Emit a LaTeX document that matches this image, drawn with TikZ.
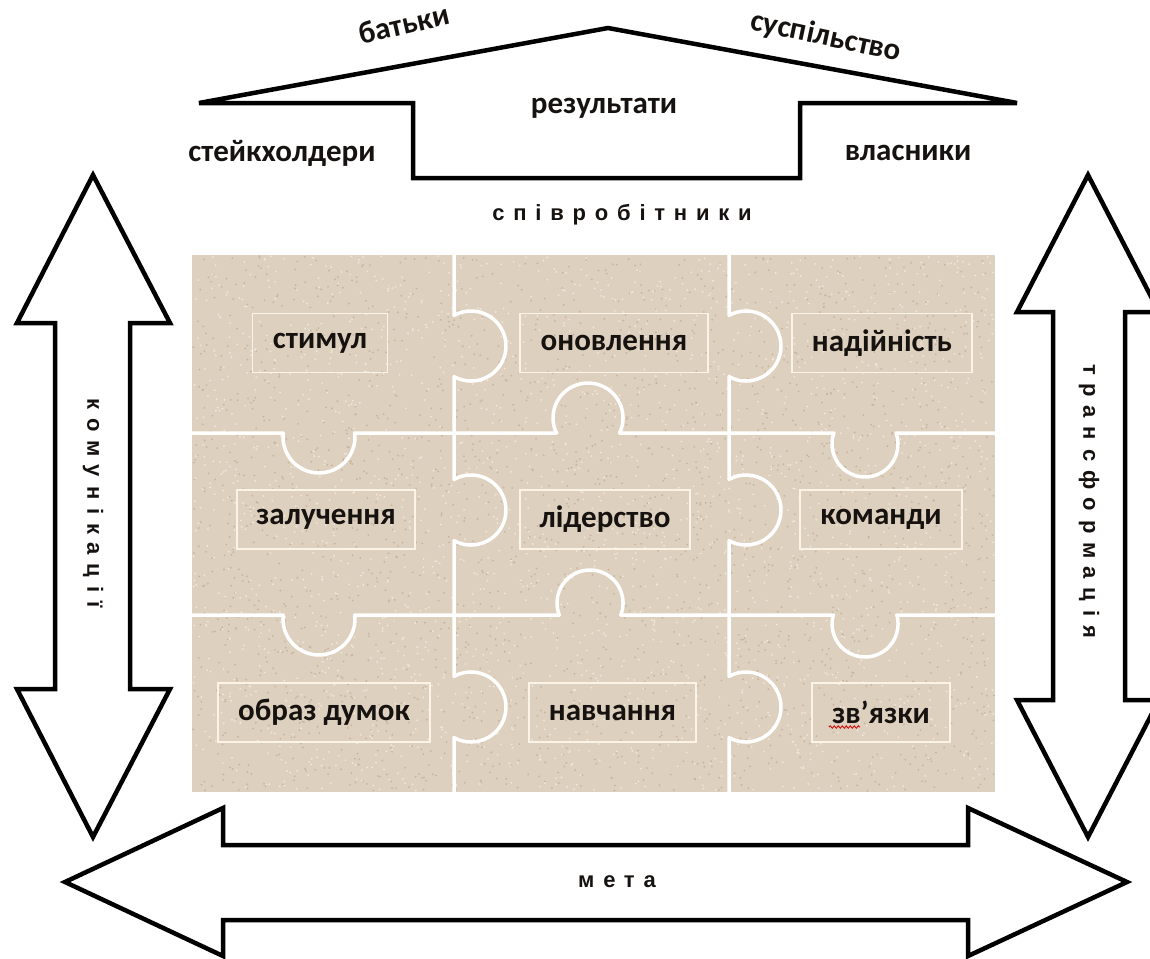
\documentclass[tikz,border=0pt]{standalone}
\usepackage{fontspec}
\setmainfont{Carlito}
\newfontfamily\spacedfont{Liberation Sans}[LetterSpace=40]
\usetikzlibrary{decorations.pathmorphing}
\definecolor{sand}{RGB}{222,208,190}
\definecolor{speckD}{RGB}{198,180,158}
\definecolor{speckL}{RGB}{240,232,220}
\definecolor{boxline}{RGB}{250,243,230}
\definecolor{ink}{RGB}{22,18,16}
\begin{document}
\begin{tikzpicture}[x=1pt,y=-1pt,
  bigarrow/.style={draw=black, line width=4.5pt, fill=white, line join=miter},
  lbl/.style={font=\fontsize{31}{34}\selectfont\bfseries, text=ink, inner sep=0pt},
  spaced/.style={font=\spacedfont\fontsize{22}{26}\selectfont\bfseries, text=ink, inner sep=0pt},
  piecebox/.style={draw=boxline, line width=1.2pt, minimum height=59pt, inner sep=0pt, font=\fontsize{31}{34}\selectfont\bfseries, text=ink},
  divider/.style={draw=white, line width=3.5pt, line cap=round, line join=round}]
\useasboundingbox (0,0) rectangle (1150,958);
\clip (0,0) rectangle (1150,958);
\fill[white] (0,0) rectangle (1150,958);

% top arrow
\draw[bigarrow] (199,103) -- (608,28) -- (1017,103) -- (800,103) -- (800,178)
  -- (413,178) -- (413,103) -- cycle;
% left arrow
\draw[bigarrow] (93,175) -- (170,323) -- (130,323) -- (130,689) -- (170,689)
  -- (93,837) -- (17,689) -- (55,689) -- (55,323) -- (17,323) -- cycle;
% right arrow
\draw[bigarrow] (1088,175) -- (1159,312) -- (1125,312) -- (1125,700) -- (1159,700)
  -- (1088,837) -- (1017,700) -- (1053,700) -- (1053,312) -- (1017,312) -- cycle;
% bottom arrow
\draw[bigarrow] (65,882) -- (223,808) -- (223,845) -- (968,845) -- (968,808)
  -- (1127,882) -- (968,956) -- (968,920) -- (223,920) -- (223,956) -- cycle;

% puzzle board
\fill[sand] (192,255) rectangle (995,792);
\pgfmathsetseed{42}
\foreach \i in {1,...,2200}{
  \pgfmathsetmacro\px{193+801*rnd}
  \pgfmathsetmacro\py{256+535*rnd}
  \fill[speckD] (\px,\py) circle[radius=1];
}
\foreach \i in {1,...,2200}{
  \pgfmathsetmacro\px{193+801*rnd}
  \pgfmathsetmacro\py{256+535*rnd}
  \fill[speckL] (\px,\py) circle[radius=1];
}

% vertical dividers
\draw[divider] (454,255) -- (454,315.4) arc[start angle=-119,end angle=119,radius=35]
  -- (454,479.4) arc[start angle=-119,end angle=119,radius=35]
  -- (454,676.4) arc[start angle=-119,end angle=119,radius=35] -- (454,792);
\draw[divider] (729,255) -- (729,315.4) arc[start angle=-119,end angle=119,radius=35]
  -- (729,479.4) arc[start angle=-119,end angle=119,radius=35]
  -- (729,676.4) arc[start angle=-119,end angle=119,radius=35] -- (729,792);
% horizontal dividers
\draw[divider] (192,433) -- (283.2,433) arc[start angle=186.38,end angle=-6.38,radius=36]
  -- (556.4,433) arc[start angle=154.6,end angle=385.4,radius=35]
  -- (833.9,433) arc[start angle=199.47,end angle=-19.47,radius=33] -- (995,433);
\draw[divider] (192,615) -- (283.2,615) arc[start angle=186.38,end angle=-6.38,radius=36]
  -- (559.3,615) arc[start angle=158.67,end angle=381.33,radius=33]
  -- (833.3,615) arc[start angle=195.83,end angle=-15.83,radius=33] -- (995,615);

% puzzle labels
\node[piecebox, minimum width=135pt] (stymul) at (320,343) {стимул};
\node[piecebox, minimum width=188pt] (onovl) at (614,343) {оновлення};
\node[piecebox, minimum width=180pt] (nadiin) at (882,343) {надійність};
\node[piecebox, minimum width=178pt] (zaluch) at (326,519.5) {залучення};
\node[piecebox, minimum width=170pt] (lider) at (605,519.5) {лідерство};
\node[piecebox, minimum width=162pt] (komand) at (881,519.5) {команди};
\node[piecebox, minimum width=212pt] (obraz) at (324,712.5) {образ думок};
\node[piecebox, minimum width=167pt] (navch) at (612.5,712.5) {навчання};
\node[piecebox, minimum width=138pt] (zviaz) at (881,712.5) {зв’язки};
\draw[red!85!black, line width=0.8pt, decorate, decoration={snake, amplitude=1.2pt, segment length=4pt}]
  (829,727) -- (860,727);

% top labels
\node[lbl, rotate=13] (batky) at (404,24) {батьки};
\node[lbl, rotate=-12] (susp) at (826,37) {суспільство};
\node[lbl] (rez) at (604,108) {результати};
\node[lbl] (steik) at (282,153) {стейкхолдери};
\node[lbl] (vlas) at (908,153) {власники};

% spaced labels
\node[spaced] (spivr) at (622,215) {співробітники};
\node[spaced, rotate=-90] (komm) at (93,503) {комунікації};
\node[spaced, rotate=-90] (trans) at (1089,501) {трансформація};
\node[spaced] (meta) at (617,882) {мета};
\end{tikzpicture}
\end{document}
